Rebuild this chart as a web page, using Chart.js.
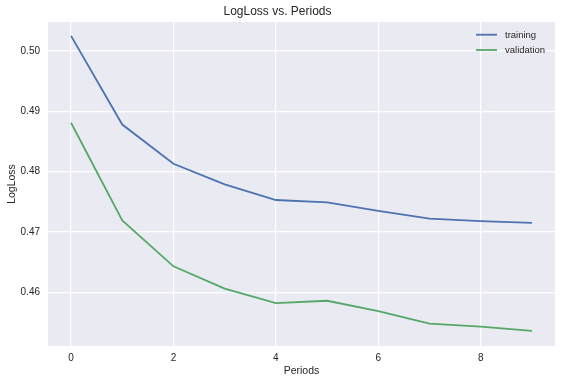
<!DOCTYPE html>
<html>
<head>
<meta charset="utf-8">
<script src="https://cdn.jsdelivr.net/npm/chart.js@4/dist/chart.umd.min.js"></script>
<style>
  html, body { margin: 0; padding: 0; background: #ffffff; }
  #wrap { width: 563px; height: 384px; }
</style>
</head>
<body>
<div id="wrap"><canvas id="c" width="563" height="384"></canvas></div>
<script>
const periods = [0, 1, 2, 3, 4, 5, 6, 7, 8, 9];
const trainingLoss = [0.5025, 0.4878, 0.4813, 0.4779, 0.4753, 0.4749, 0.4735, 0.4722, 0.4718, 0.4715];
const validationLoss = [0.4881, 0.4719, 0.4643, 0.4606, 0.4582, 0.4586, 0.4569, 0.4548, 0.4543, 0.4536];
const xTicks = [0, 2, 4, 6, 8];
const yTicks = [0.46, 0.47, 0.48, 0.49, 0.50];
const seriesNames = ['training', 'validation'];
const chartTitle = 'LogLoss vs. Periods';
const xTitle = 'Periods';
const yTitle = 'LogLoss';

const TEXT = '#262626';
const FONT = "'Liberation Sans', Arial, sans-serif";

const bgPlugin = {
  id: 'bg',
  beforeDraw(chart) {
    const a = chart.chartArea, ctx = chart.ctx;
    ctx.save();
    ctx.fillStyle = '#EAEAF2';
    ctx.fillRect(a.left, a.top, a.right - a.left, a.bottom - a.top);
    ctx.restore();
  }
};

const legendPlugin = {
  id: 'innerLegend',
  afterDatasetsDraw(chart) {
    const a = chart.chartArea, ctx = chart.ctx;
    ctx.save();
    ctx.font = '9.5px ' + FONT;
    ctx.textBaseline = 'middle';
    ctx.textAlign = 'left';
    chart.data.datasets.forEach((ds, i) => {
      const y = a.top + 12.7 + i * 15.3;
      const x0 = a.right - 79;
      ctx.strokeStyle = ds.borderColor;
      ctx.lineWidth = 1.8;
      ctx.beginPath();
      ctx.moveTo(x0, y);
      ctx.lineTo(x0 + 21, y);
      ctx.stroke();
      ctx.fillStyle = TEXT;
      ctx.fillText(ds.label, x0 + 29, y + 0.5);
    });
    ctx.restore();
  }
};

new Chart(document.getElementById('c'), {
  type: 'line',
  data: {
    datasets: [
      {
        label: seriesNames[0],
        data: periods.map((p, i) => ({ x: p, y: trainingLoss[i] })),
        borderColor: '#4C72B0',
        borderWidth: 1.8,
        pointRadius: 0,
        tension: 0,
        fill: false
      },
      {
        label: seriesNames[1],
        data: periods.map((p, i) => ({ x: p, y: validationLoss[i] })),
        borderColor: '#55A868',
        borderWidth: 1.8,
        pointRadius: 0,
        tension: 0,
        fill: false
      }
    ]
  },
  options: {
    responsive: false,
    animation: false,
    devicePixelRatio: 1,
    layout: { padding: { top: 0, right: 8, bottom: 0, left: 0 } },
    plugins: {
      legend: { display: false },
      tooltip: { enabled: false },
      title: {
        display: true,
        text: chartTitle,
        color: TEXT,
        font: { family: FONT, size: 12, weight: 'normal' },
        padding: { top: 4, bottom: 3.6 }
      }
    },
    scales: {
      x: {
        type: 'linear',
        min: -0.45,
        max: 9.45,
        afterBuildTicks(scale) { scale.ticks = xTicks.map(v => ({ value: v })); },
        afterFit(scale) { scale.height = 38; },
        ticks: {
          color: TEXT,
          font: { family: FONT, size: 10 },
          padding: 6,
          maxRotation: 0,
          callback: v => String(v)
        },
        grid: { color: '#ffffff', lineWidth: 1.2, drawTicks: false },
        border: { display: false },
        title: {
          display: true,
          text: xTitle,
          color: TEXT,
          font: { family: FONT, size: 10.5 },
          padding: { top: 0, bottom: 6.7 }
        }
      },
      y: {
        type: 'linear',
        min: 0.4511,
        max: 0.5048,
        afterBuildTicks(scale) { scale.ticks = yTicks.map(v => ({ value: v })); },
        afterFit(scale) { scale.width = 48; },
        ticks: {
          color: TEXT,
          font: { family: FONT, size: 10 },
          padding: 8,
          callback: v => v.toFixed(2)
        },
        grid: { color: '#ffffff', lineWidth: 1.2, drawTicks: false },
        border: { display: false },
        title: {
          display: true,
          text: yTitle,
          color: TEXT,
          font: { family: FONT, size: 10.5 },
          padding: { top: 5.5, bottom: 0 }
        }
      }
    }
  },
  plugins: [bgPlugin, legendPlugin]
});
</script>
</body>
</html>
